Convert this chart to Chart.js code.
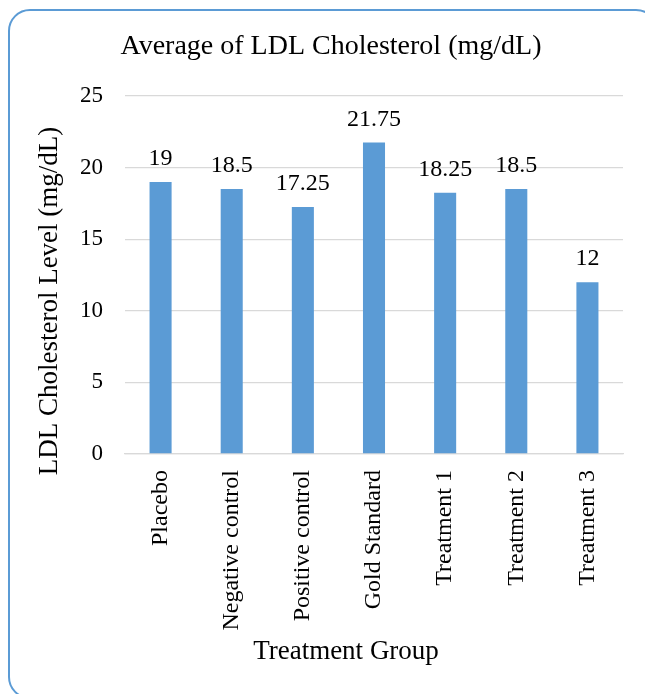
<!DOCTYPE html>
<html>
<head>
<meta charset="utf-8">
<script src="https://cdn.jsdelivr.net/npm/chart.js@4"></script>
<style>
  html, body { margin: 0; padding: 0; background: #fff; }
  body { width: 645px; height: 694px; position: relative; overflow: hidden; }
  #frame {
    position: absolute; left: 8px; top: 9px; width: 650px; height: 690px;
    border: 2px solid #5B9BD5; border-radius: 22px; box-sizing: border-box;
  }
  #wrap { position: absolute; left: 0; top: 0; width: 645px; height: 694px; }
</style>
</head>
<body>
<div id="frame"></div>
<div id="wrap"><canvas id="chart"></canvas></div>
<script>
const categories = ['Placebo', 'Negative control', 'Positive control', 'Gold Standard', 'Treatment 1', 'Treatment 2', 'Treatment 3'];
const ldlValues = [19, 18.5, 17.25, 21.75, 18.25, 18.5, 12];
const yTicks = [0, 5, 10, 15, 20, 25];

const chartTitle = 'Average of LDL Cholesterol (mg/dL)';
const xTitle = 'Treatment Group';
const yTitle = 'LDL Cholesterol Level (mg/dL)';

const FONT = '"Liberation Serif", "Times New Roman", serif';

// value above each bar
const barLabels = {
    id: 'barLabels',
    afterDatasetsDraw(chart) {
        const ctx = chart.ctx;
        const meta = chart.getDatasetMeta(0);
        ctx.save();
        ctx.font = '24px ' + FONT;
        ctx.fillStyle = '#000';
        ctx.textAlign = 'center';
        ctx.textBaseline = 'alphabetic';
        meta.data.forEach((bar, i) => {
            ctx.fillText(String(ldlValues[i]), bar.x, bar.y - 17);
        });
        ctx.restore();
    }
};

// chart + axis titles, placed like the Excel original (centred on the whole frame, not the plot)
const titles = {
    id: 'titles',
    afterDraw(chart) {
        const ctx = chart.ctx;
        ctx.save();
        ctx.fillStyle = '#000';
        ctx.textAlign = 'center';
        ctx.textBaseline = 'middle';
        ctx.font = '28px ' + FONT;
        ctx.fillText(chartTitle, 331, 47);
        ctx.font = '27px ' + FONT;
        ctx.fillText(xTitle, 346, 652);
        ctx.translate(50, 301);
        ctx.rotate(-Math.PI / 2);
        ctx.fillText(yTitle, 0, 0);
        ctx.restore();
    }
};

new Chart(document.getElementById('chart'), {
    type: 'bar',
    data: {
        labels: categories,
        datasets: [{
            label: chartTitle,
            data: ldlValues,
            backgroundColor: '#5B9BD5',
            barPercentage: 0.62,
            categoryPercentage: 0.5
        }]
    },
    options: {
        responsive: true,
        maintainAspectRatio: false,
        animation: false,
        layout: { padding: { left: 0, right: 22, top: 96, bottom: 0 } },
        plugins: {
            legend: { display: false },
            tooltip: { enabled: false },
            title: { display: false }
        },
        scales: {
            y: {
                min: 0,
                max: 25,
                afterBuildTicks: s => { s.ticks = yTicks.map(v => ({ value: v })); },
                afterFit: s => { s.width = 125; },
                grid: { color: '#D9D9D9', lineWidth: 1.3, drawTicks: false },
                border: { display: false },
                ticks: { color: '#000', font: { family: FONT, size: 23 }, padding: 22 }
            },
            x: {
                afterFit: s => { s.height = 240; },
                grid: { display: false, drawTicks: false },
                border: { display: true, color: '#D9D9D9', width: 1.3 },
                ticks: { color: '#000', font: { family: FONT, size: 24 }, padding: 16, minRotation: 90, maxRotation: 90, autoSkip: false }
            }
        }
    },
    plugins: [barLabels, titles]
});
</script>
</body>
</html>
